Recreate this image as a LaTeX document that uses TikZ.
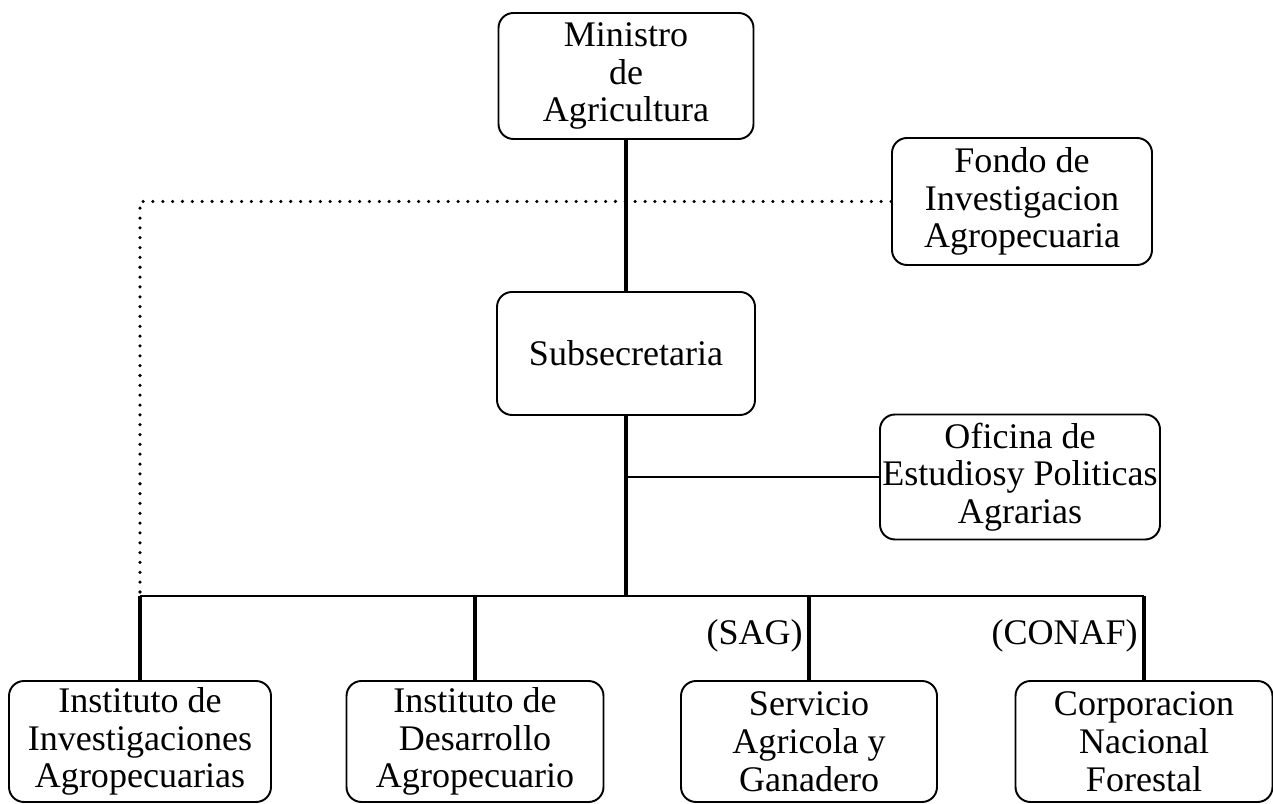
\documentclass[tikz,border=0pt]{standalone}
\usepackage{fontspec}
\setmainfont{Liberation Serif}
\usetikzlibrary{positioning,calc}

\tikzset{
  orgbox/.style={draw, rounded corners=0.3cm, line width=1.1pt, align=center,
    inner sep=0pt, minimum height=2.5cm, minimum width=#1,
    font=\fontsize{20.5}{21.5}\selectfont},
  orgbox/.default=5.15cm,
  link/.style={line width=1.9pt},
  rail/.style={line width=1.1pt},
  dotlink/.style={line width=2pt, line cap=round, dash pattern=on 0pt off 5.6pt},
  tag/.style={inner sep=0pt, font=\fontsize{20.5}{21.5}\selectfont},
}

\begin{document}
\begin{tikzpicture}
    \useasboundingbox (0,0) rectangle (25.46,16.08);
    % ---- head of the ministry
    \node[orgbox=5.1cm, minimum height=2.52cm]  (min)   at (12.52,14.56) {Ministro\\de\\Agricultura};
    \node[orgbox=5.2cm, minimum height=2.54cm]  (fondo) at (20.44,12.05) {Fondo de\\Investigacion\\Agropecuaria};
    \node[orgbox=5.16cm, minimum height=2.46cm] (sub)   at (12.52,9.01)  {Subsecretaria};
    \node[orgbox=5.6cm]                         (ofi)   at (20.40,6.54)  {Oficina de\\Estudiosy Politicas\\Agrarias};
    % ---- services hanging from the rail
    \node[orgbox=5.24cm, minimum height=2.42cm] (iia)   at (2.80,1.25)  {Instituto de\\Investigaciones\\Agropecuarias};
    \node[orgbox=5.14cm, minimum height=2.42cm] (ida)   at (9.50,1.25)  {Instituto de\\Desarrollo\\Agropecuario};
    \node[orgbox=5.12cm, minimum height=2.42cm] (sag)   at (16.18,1.25) {Servicio\\Agricola y\\Ganadero};
    \node[orgbox=5.14cm, minimum height=2.42cm] (conaf) at (22.88,1.25) {Corporacion\\Nacional\\Forestal};
    \coordinate (bus) at (12.52,4.16);
    \node[tag, anchor=east] (sagtag)   at ([xshift=-0.12cm, yshift=0.88cm]sag.north)   {(SAG)};
    \node[tag, anchor=east] (conaftag) at ([xshift=-0.12cm, yshift=0.88cm]conaf.north) {(CONAF)};
    % ---- connectors
    \draw[dotlink] (fondo) -- (fondo -| iia) -- (iia |- bus);
    \draw[link] (min) -- (sub);
    \draw[link] (sub) -- (sub |- bus);
    \draw[rail] (sub |- ofi) -- (ofi);
    \draw[rail] (iia |- bus) -- (conaf |- bus);
    \foreach \u in {iia,ida,sag,conaf}
      { \draw[link] (\u |- bus) -- (\u); }
\end{tikzpicture}
\end{document}
